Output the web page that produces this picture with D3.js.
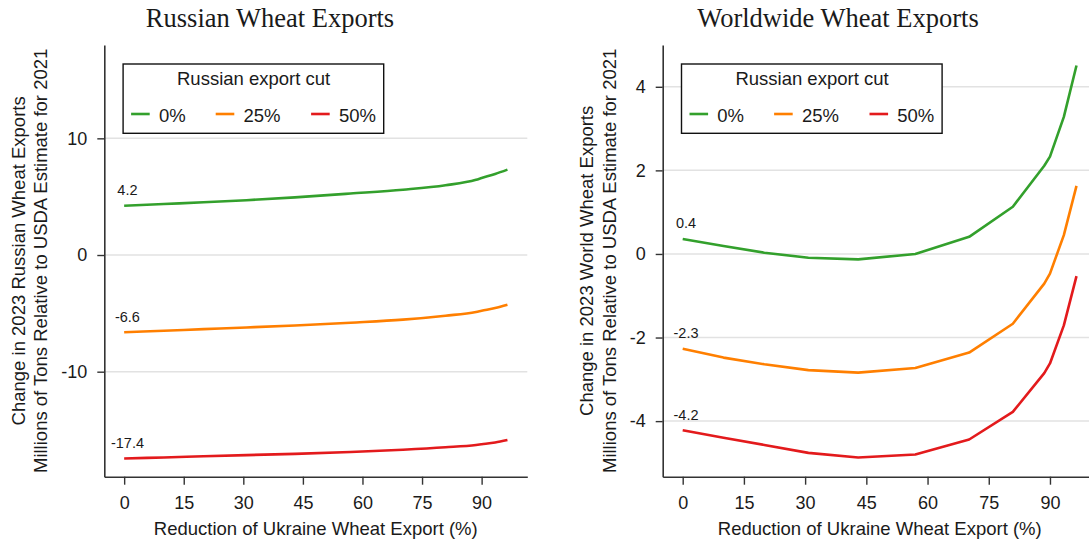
<!DOCTYPE html>
<html>
<head>
<meta charset="utf-8">
<script src="https://cdn.jsdelivr.net/npm/d3@7"></script>
<style>
  html, body { margin: 0; padding: 0; background: #fff; }
  svg { display: block; }
  text { font-family: "Liberation Sans", Arial, Helvetica, sans-serif; fill: #1a1a1a; }
  .title { font-family: "Liberation Serif", "Times New Roman", serif; }
</style>
</head>
<body>
<svg id="chart" width="1089" height="546"></svg>
<script>
// ---- data ----
const xValues = [0, 10, 20, 30.8, 43, 57, 70.2, 80.9, 88.6, 90, 93.4, 96.5];
const seriesNames = ["0%", "25%", "50%"];
const seriesColors = ["#33a02c", "#ff7f00", "#e31a1c"];

// Left panel: change in Russian wheat exports
const russia0  = [4.22, 4.37, 4.52, 4.70, 4.94, 5.27, 5.60, 5.98, 6.45, 6.60, 6.95, 7.32];
const russia25 = [-6.62, -6.49, -6.35, -6.21, -6.04, -5.80, -5.54, -5.20, -4.88, -4.78, -4.55, -4.27];
const russia50 = [-17.44, -17.35, -17.25, -17.15, -17.04, -16.88, -16.69, -16.48, -16.28, -16.22, -16.07, -15.86];

// Right panel: change in world wheat exports
const world0  = [0.36, 0.19, 0.03, -0.09, -0.13, 0.0, 0.41, 1.13, 2.11, 2.33, 3.28, 4.51];
const world25 = [-2.27, -2.48, -2.64, -2.78, -2.84, -2.73, -2.36, -1.67, -0.71, -0.47, 0.45, 1.63];
const world50 = [-4.22, -4.40, -4.57, -4.76, -4.87, -4.80, -4.44, -3.78, -2.85, -2.62, -1.71, -0.53];

const xTicks = [0, 15, 30, 45, 60, 75, 90];
const leftYTicks = [10, 0, -10];
const rightYTicks = [4, 2, 0, -2, -4];

const xTitle = "Reduction of Ukraine Wheat Export (%)";
const legendTitle = "Russian export cut";

// ---- drawing ----
const svg = d3.select("#chart");

const panels = [
  {
    title: "Russian Wheat Exports", titleX: 270,
    yTitle: ["Change in 2023 Russian Wheat Exports", "Millions of Tons Relative to USDA Estimate for 2021"],
    yTitleX: [18, 40.7],
    left: 104.3, right: 527.3, xDomain: [-5, 101.5],
    yDomain: [-19, 18], yTicks: leftYTicks,
    series: [russia0, russia25, russia50], curve: d3.curveMonotoneX
  },
  {
    title: "Worldwide Wheat Exports", titleX: 838,
    yTitle: ["Change in 2023 World Wheat Exports", "Millions of Tons Relative to USDA Estimate for 2021"],
    yTitleX: [586.8, 609.4],
    left: 662.7, right: 1096.9, xDomain: [-4.9, 101.5],
    yDomain: [-5.33, 5.0], yTicks: rightYTicks,
    series: [world0, world25, world50], curve: d3.curveLinear
  }
];

const plotTop = 45, plotBottom = 476.7;
const fs = 18.5;
const fmt = d => (d < 0 ? "-" : "") + d3.format("")(Math.abs(d));

panels.forEach(p => {
  const x = d3.scaleLinear().domain(p.xDomain).range([p.left, p.right]);
  const y = d3.scaleLinear().domain(p.yDomain).range([plotBottom, plotTop]);
  const g = svg.append("g");

  // gridlines
  g.append("g").selectAll("line").data(p.yTicks).join("line")
    .attr("x1", p.left).attr("x2", p.right)
    .attr("y1", d => y(d)).attr("y2", d => y(d))
    .attr("stroke", "#e2e2e2").attr("stroke-width", 1.5);

  // axes
  const xAxis = g.append("g").attr("transform", `translate(0,${plotBottom})`)
    .call(d3.axisBottom(x).tickValues(xTicks).tickSize(8).tickSizeOuter(0).tickPadding(11.5).tickFormat(d3.format("d")));
  const yAxis = g.append("g").attr("transform", `translate(${p.left},0)`)
    .call(d3.axisLeft(y).tickValues(p.yTicks).tickSize(7).tickSizeOuter(0).tickPadding(10).tickFormat(fmt));
  [xAxis, yAxis].forEach(a => {
    a.select(".domain").attr("stroke", "#333").attr("stroke-width", 1.6);
    a.selectAll(".tick line").attr("stroke", "#333").attr("stroke-width", 1.4);
    a.selectAll(".tick text").attr("font-size", 18).attr("fill", "#1a1a1a")
      .style("font-family", '"Liberation Sans", Arial, sans-serif');
  });

  // lines
  const line = d3.line().curve(p.curve).x((d, i) => x(xValues[i])).y(d => y(d));
  p.series.forEach((s, k) => {
    g.append("path").datum(s)
      .attr("d", line)
      .attr("fill", "none")
      .attr("stroke", seriesColors[k])
      .attr("stroke-width", 2.6)
      .attr("stroke-linejoin", "round")
      .attr("stroke-linecap", "butt");
    g.append("text")
      .attr("x", x(xValues[0]) + 3.3)
      .attr("y", y(s[0]) - 10.6)
      .attr("text-anchor", "middle")
      .attr("font-size", 14.5)
      .text(d3.format(".1f")(s[0]).replace("\u2212", "-"));
  });

  // titles
  g.append("text").attr("class", "title")
    .attr("x", p.titleX).attr("y", 27)
    .attr("text-anchor", "middle").attr("font-size", 26.5)
    .text(p.title);

  g.append("text")
    .attr("x", (p.left + p.right) / 2)
    .attr("y", 535)
    .attr("text-anchor", "middle").attr("font-size", fs)
    .text(xTitle);

  p.yTitle.forEach((t, i) => {
    g.append("text")
      .attr("transform", `translate(${p.yTitleX[i]},${(plotTop + plotBottom) / 2}) rotate(-90)`)
      .attr("dy", "0.36em")
      .attr("text-anchor", "middle").attr("font-size", fs)
      .text(t);
  });

  // legend
  const lx = p.left + 18.8, ly = 64;
  const lg = g.append("g").attr("transform", `translate(${lx},${ly})`);
  lg.append("rect").attr("width", 260.6).attr("height", 69.3)
    .attr("fill", "#fff").attr("stroke", "#111").attr("stroke-width", 1.4);
  lg.append("text").attr("x", 130.5).attr("y", 21).attr("text-anchor", "middle")
    .attr("font-size", fs).text(legendTitle);
  const itemX = [8, 92.6, 188];
  seriesNames.forEach((n, k) => {
    lg.append("line").attr("x1", itemX[k]).attr("x2", itemX[k] + 18.6)
      .attr("y1", 50).attr("y2", 50)
      .attr("stroke", seriesColors[k]).attr("stroke-width", 2.6);
    lg.append("text").attr("x", itemX[k] + 27.8).attr("y", 58.3)
      .attr("font-size", fs).text(n);
  });
});
</script>
</body>
</html>
